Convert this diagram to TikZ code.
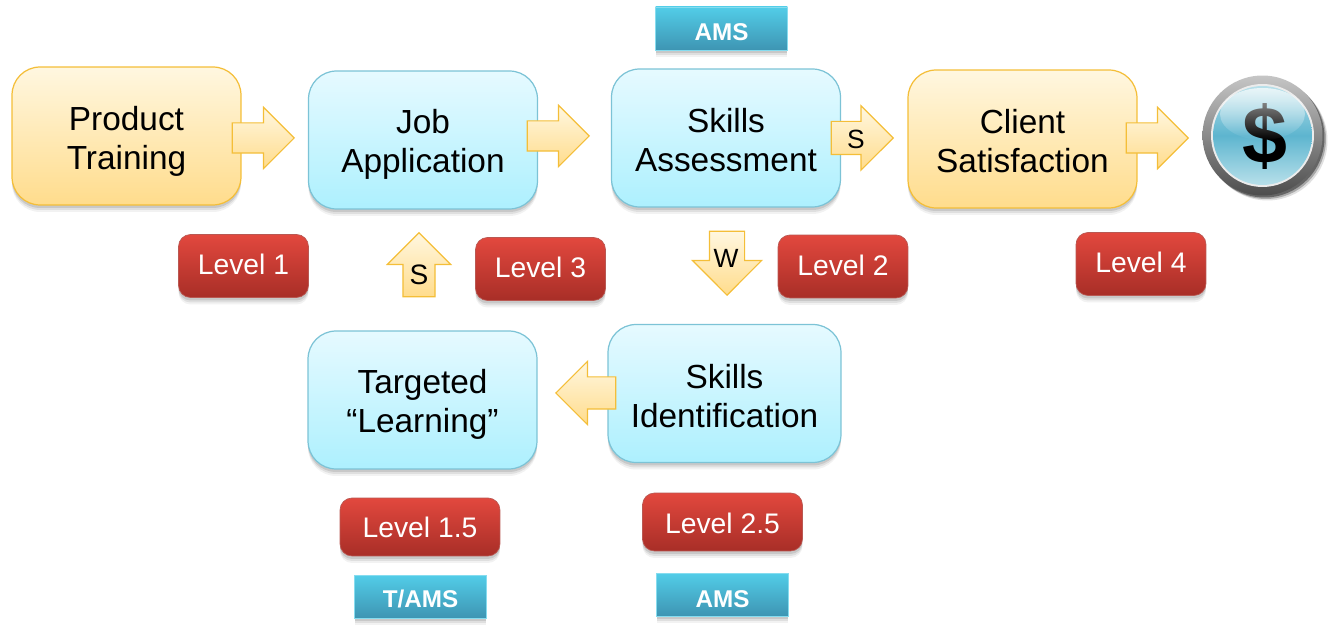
\documentclass[tikz,border=0pt]{standalone}
\usepackage{fontspec}
\setmainfont{Liberation Sans}
\usetikzlibrary{shapes.arrows,shadows,fadings}
\definecolor{bluetop}{HTML}{E6FAFF}
\definecolor{bluebot}{HTML}{ADF0FE}
\definecolor{blueline}{HTML}{7CC3D6}
\definecolor{goldtop}{HTML}{FFF7E0}
\definecolor{goldbot}{HTML}{FFDC8C}
\definecolor{goldline}{HTML}{F4BE38}
\definecolor{redtop}{HTML}{E2483E}
\definecolor{redbot}{HTML}{A82E27}
\definecolor{tealtop}{HTML}{52CDE8}
\definecolor{tealbot}{HTML}{3E95B3}
\definecolor{coinlight}{HTML}{B8E0EA}
\definecolor{coinmid}{HTML}{5DB5CF}
\tikzset{
softshadow/.style={
  drop shadow={shadow xshift=0cm,shadow yshift=-0.14cm,opacity=.05,fill=black},
  drop shadow={shadow xshift=0cm,shadow yshift=-0.10cm,opacity=.08,fill=black},
  drop shadow={shadow xshift=0cm,shadow yshift=-0.06cm,opacity=.10,fill=black}},
stage/.style={
  draw,rounded corners=0.56cm,line width=0.7pt,softshadow,align=center,
  minimum width=4.58cm,minimum height=2.76cm,inner sep=0pt,text depth=0pt,
  font=\fontsize{19}{22.3}\selectfont},
bluestage/.style={stage,draw=blueline,top color=bluetop,bottom color=bluebot},
goldstage/.style={stage,draw=goldline,top color=goldtop,bottom color=goldbot},
level/.style={
  draw=redbot!80!white,rounded corners=0.24cm,softshadow,text=white,
  top color=redtop,bottom color=redbot,text depth=0pt,
  minimum width=2.6cm,minimum height=1.26cm,inner sep=0pt,
  font=\fontsize{16.1}{19}\selectfont},
tool/.style={
  draw=tealtop!70!white,softshadow,text=white,text depth=0pt,
  top color=tealtop,bottom color=tealbot,
  minimum width=2.64cm,minimum height=0.86cm,inner sep=0pt,
  font=\fontsize{13.8}{16}\selectfont\bfseries},
flow/.style={
  draw=goldline,line width=0.7pt,top color=goldtop,bottom color=goldbot,
  single arrow,single arrow head extend=0.31cm,inner xsep=0pt,inner ysep=0.29cm,
  minimum height=1.24cm,anchor=tip},
flowup/.style={flow,inner ysep=0pt,inner xsep=#1},
flowtext/.style={inner sep=0pt,font=\fontsize{15}{18}\selectfont},
coinpart/.style={circle,inner sep=0pt}
}
\tikzfading[name=glossfade,top color=transparent!30,bottom color=transparent!100]

\begin{document}
\begin{tikzpicture}[x=0.02cm,y=-0.02cm]
\useasboundingbox (0,0) rectangle (1340,634);

% stages
\node[goldstage,text height=38.5pt] (product) at (126.5,136) {Product\\Training};
\node[bluestage,text height=37.4pt] (jobapp) at (423,140) {Job\\Application};
\node[bluestage,text height=38pt] (assess) at (726,138) {Skills\\Assessment};
\node[goldstage,text height=38pt] (client) at (1022.5,139) {Client\\Satisfaction};
\node[bluestage,text height=36.8pt] (targeted) at (422.5,400) {Targeted\\“Learning”};
\node[bluestage,text height=38.5pt,minimum width=4.66cm] (identify) at (724.5,393.5) {Skills\\Identification};

% levels
\node[level,text height=9.4pt] (lvlone) at (243.5,266) {Level 1};
\node[level,text height=9.4pt] (lvlthree) at (540.5,269) {Level 3};
\node[level,text height=10.5pt] (lvltwo) at (843,266.5) {Level 2};
\node[level,text height=9.4pt] (lvlfour) at (1141,264) {Level 4};
\node[level,text height=11.5pt,minimum width=3.2cm,minimum height=1.16cm] (lvlonefive) at (420,527) {Level 1.5};
\node[level,text height=12.6pt,minimum width=3.2cm,minimum height=1.16cm] (lvltwofive) at (722.5,522) {Level 2.5};

% tools
\node[tool,text height=13.4pt] (amstop) at (721.5,28.5) {AMS};
\node[tool,text height=12.3pt] (tams) at (420.5,596.5) {T/AMS};
\node[tool,text height=14.6pt] (amsbot) at (722.5,594.5) {AMS};

% arrows
\node[flow] (arrprod) at (295,138) {};
\node[flow] (arrjob) at (590,136) {};
\node[flow,inner ysep=0.32cm] (arrassess) at (894,138) {};
\node[flow] (arrclient) at (1189,138) {};
\node[flowup=0.31cm,shape border rotate=90,minimum height=1.28cm] (arrlearn) at (419,232) {};
\node[flowup=0.34cm,shape border rotate=270,minimum height=1.28cm,single arrow head extend=0.34cm] (arrskills) at (727,296) {};
\node[flow,shape border rotate=180,inner ysep=0.31cm,minimum height=1.2cm] (arrident) at (555,393) {};
\node[flowtext] (lblassess) at (856,139) {S};
\node[flowtext,font=\fontsize{16}{18}\selectfont] (lbllearn) at (419,275) {S};
\node[flowtext] (lblskills) at (726,258) {W};

% dollar button
\node[coinpart,minimum size=2.4cm,top color=gray!45,bottom color=black!70,
  drop shadow={shadow xshift=0.1cm,shadow yshift=-0.1cm,opacity=.12,fill=black},
  drop shadow={shadow xshift=0.07cm,shadow yshift=-0.07cm,opacity=.25,fill=black},
  drop shadow={shadow xshift=0.04cm,shadow yshift=-0.04cm,opacity=.4,fill=black}] (coin) at (1262.5,135.5) {};
\node[coinpart,minimum size=2.06cm,fill=white!85!gray] (coinrim) at (coin.center) {};
\node[coinpart,minimum size=1.98cm,top color=coinlight,bottom color=coinlight,middle color=coinmid] (coinface) at (coin.center) {};
\node[font=\fontsize{46}{46}\selectfont\bfseries,text=black,inner sep=0pt] (dollar) at (1265,137) {\$};
\fill[white,path fading=glossfade] (1262.5,114) ellipse[x radius=0.85cm,y radius=0.52cm];
\end{tikzpicture}
\end{document}
